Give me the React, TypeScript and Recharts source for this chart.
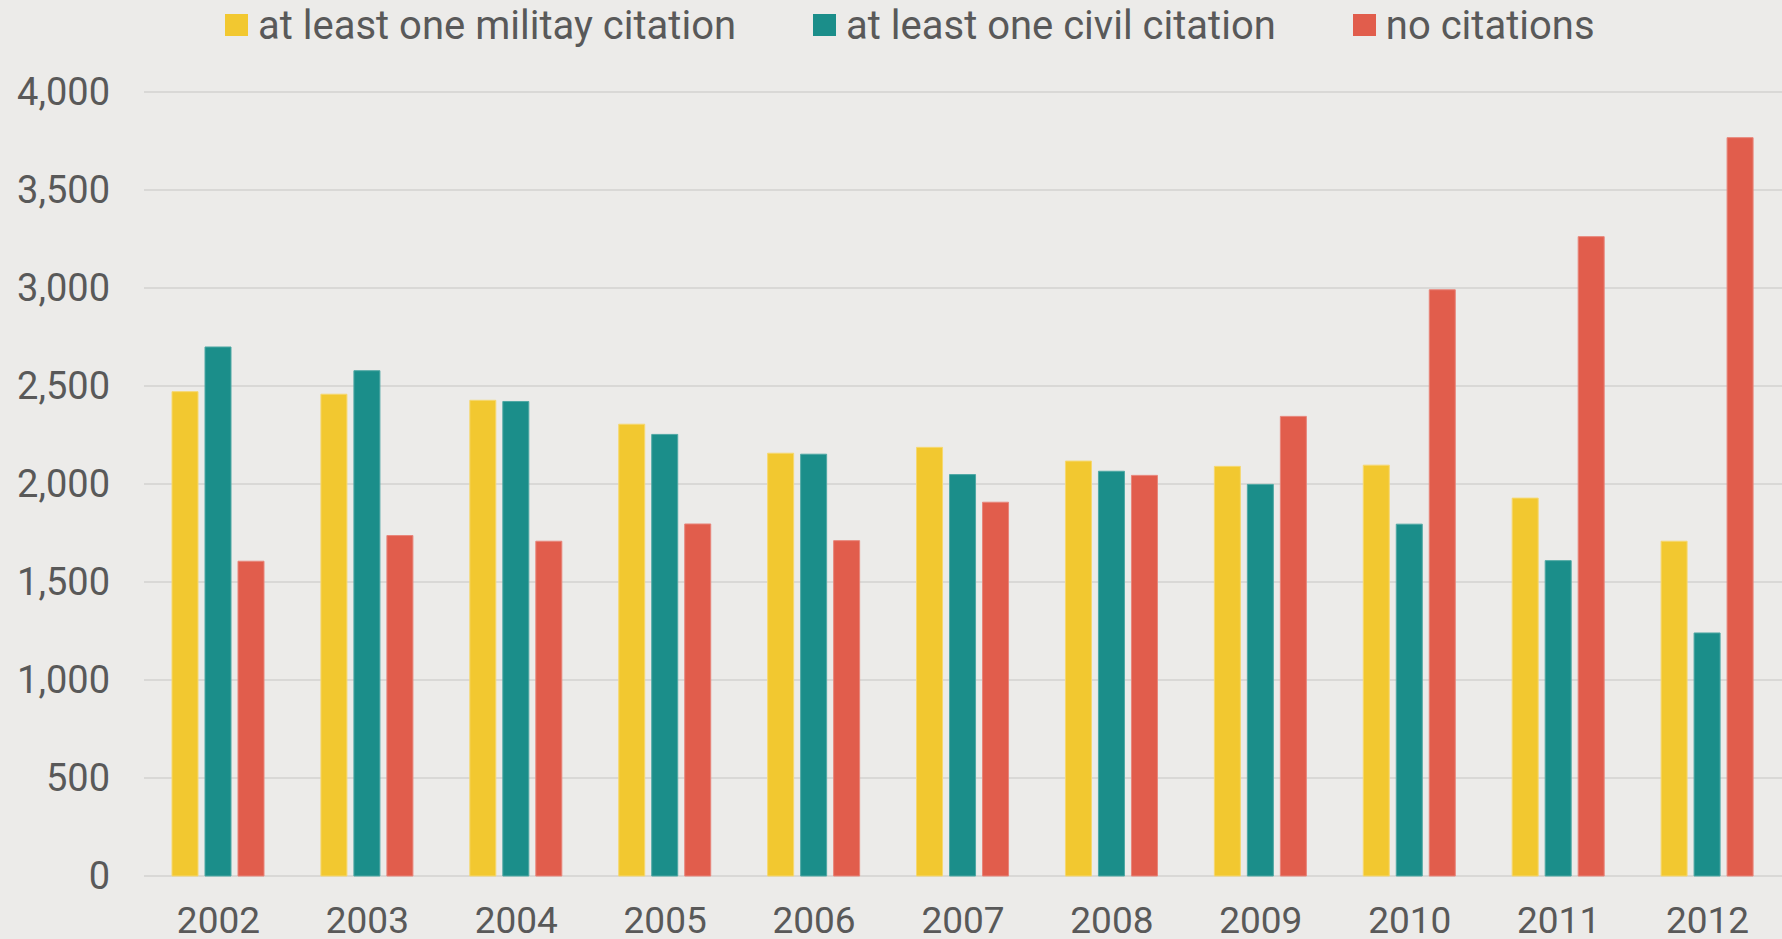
import { BarChart, Bar, XAxis, YAxis, CartesianGrid, Legend } from 'recharts';

const years = ['2002', '2003', '2004', '2005', '2006', '2007', '2008', '2009', '2010', '2011', '2012'];
const military = [2471, 2458, 2427, 2305, 2157, 2187, 2117, 2090, 2096, 1928, 1708];
const civil = [2699, 2578, 2421, 2253, 2152, 2048, 2065, 1998, 1795, 1609, 1240];
const noCitations = [1606, 1737, 1708, 1796, 1711, 1907, 2044, 2345, 2991, 3262, 3767];
const yTicks = [0, 500, 1000, 1500, 2000, 2500, 3000, 3500, 4000];

const seriesKeys = ['military', 'civil', 'none'];
const seriesNames = ['at least one militay citation', 'at least one civil citation', 'no citations'];
const seriesColors = ['#F2C830', '#1B8E8A', '#E15D4C'];
const seriesStrokes = ['#F6D870', '#4FA8A4', '#E8857A'];

const data = years.map((year, i) => ({
    year,
    military: military[i],
    civil: civil[i],
    none: noCitations[i],
}));

const FONT = 'Roboto, "Liberation Sans", sans-serif';
const TEXT = '#595959';

// legend drawn in series order (recharts sorts payload by name otherwise)
const renderLegend = () => (
    <div style={{ display: 'flex', height: 50, alignItems: 'center', paddingLeft: 225 }}>
        {seriesNames.map((name, i) => (
            <div key={name} style={{ display: 'flex', alignItems: 'center', marginRight: 77 }}>
                <span style={{ display: 'inline-block', width: 23, height: 22, background: seriesColors[i], marginRight: 10 }} />
                <span style={{ fontFamily: FONT, fontSize: 40, color: TEXT, whiteSpace: 'nowrap' }}>{name}</span>
            </div>
        ))}
    </div>
);

export default function App() {
    return (
        <div style={{ position: 'absolute', left: 0, top: 0, width: 1782, height: 939, background: '#ECEBE9' }}>
            <BarChart
                width={1782}
                height={939}
                data={data}
                margin={{ top: 42, right: 0, bottom: 0, left: 0 }}
                barSize={26}
                barGap={7}
            >
                <CartesianGrid vertical={false} stroke="#D9D8D6" strokeWidth={2} />
                <XAxis
                    dataKey="year"
                    axisLine={false}
                    tickLine={false}
                    tickSize={0}
                    tickMargin={31}
                    height={63}
                    interval={0}
                    tick={{ fill: TEXT, fontSize: 37, fontFamily: FONT }}
                />
                <YAxis
                    domain={[0, 4000]}
                    ticks={yTicks}
                    axisLine={false}
                    tickLine={false}
                    tickSize={0}
                    tickMargin={34}
                    width={144}
                    tickFormatter={(v: number) => v.toLocaleString('en-US')}
                    tick={{ fill: TEXT, fontSize: 38, fontFamily: FONT }}
                />
                <Legend verticalAlign="top" align="left" content={renderLegend} wrapperStyle={{ top: 0, left: 0, width: 1782 }} />
                {seriesKeys.map((key, i) => (
                    <Bar
                        key={key}
                        dataKey={key}
                        name={seriesNames[i]}
                        fill={seriesColors[i]}
                        stroke={seriesStrokes[i]}
                        strokeWidth={1}
                        isAnimationActive={false}
                    />
                ))}
            </BarChart>
        </div>
    );
}
